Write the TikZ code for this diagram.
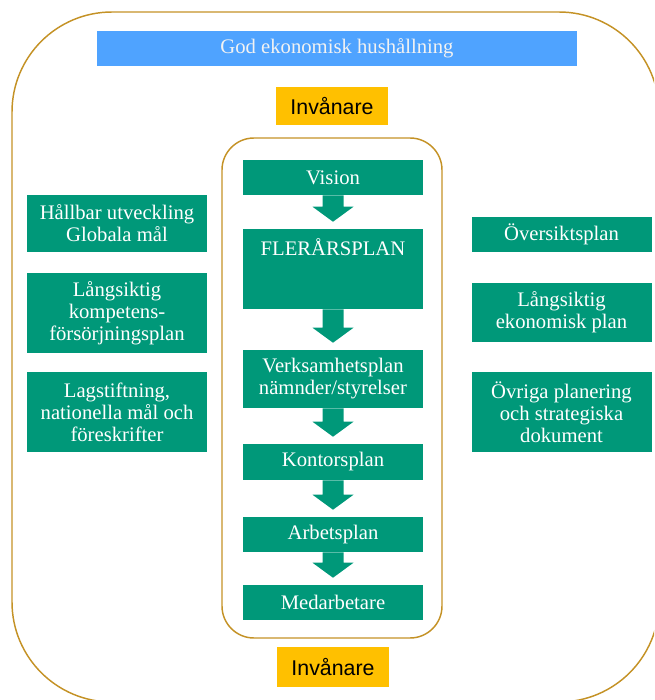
\documentclass[tikz,border=0pt]{standalone}
\usepackage{fontspec}
\setmainfont{Liberation Serif}
\setsansfont{Liberation Sans}
\usetikzlibrary{calc}

\definecolor{frame}{RGB}{196,146,38}
\definecolor{planblue}{RGB}{79,163,255}
\definecolor{folkgold}{RGB}{255,192,0}
\definecolor{plangreen}{RGB}{0,152,121}

\begin{document}
\begin{tikzpicture}[x=0.75pt,y=-0.75pt,
  frameline/.style={draw=frame,line width=1.1pt},
  planbox/.style={fill=plangreen,text=white,inner sep=0pt,align=center,
    font=\fontsize{15.5}{16.5}\selectfont,minimum width=135pt},
  folkbox/.style={fill=folkgold,inner sep=0pt,font=\sffamily\fontsize{16}{18}\selectfont,
    minimum width=84pt},
  arrowfill/.style={fill=plangreen}]
\useasboundingbox (0,0) rectangle (654,700); % adjust bounding box
\clip (0,0) rectangle (654,700);
\draw[frameline,rounded corners=75pt] (12,12) rectangle (659,702);
\draw[frameline,rounded corners=24pt] (222,138) rectangle (442,638);

\node[fill=planblue,text=white!95!black,minimum width=360pt,minimum height=26.25pt,inner sep=0pt,
  font=\fontsize{15.5}{17}\selectfont] (budget) at (337,48.5) {God ekonomisk hushållning};
\node[folkbox,minimum height=28.5pt] (folktop) at (332,106) {Invånare};
\node[folkbox,minimum height=30pt] (folkbot) at (333,667) {Invånare};

\node[planbox,minimum height=26.25pt] (vision) at (333,177.5) {Vision};
\node[planbox,minimum height=60pt,
  label={[planbox,minimum width=0pt,fill=none,anchor=north,yshift=-7pt]north:FLERÅRSPLAN}]
  (flerar) at (333,269) {};
\node[planbox,minimum height=43.5pt] (verks) at (333,379) {Verksamhetsplan\\nämnder/styrelser};
\node[planbox,minimum height=27pt] (kontor) at (333,462) {Kontorsplan};
\node[planbox,minimum height=26.25pt] (arbets) at (333,534.5) {Arbetsplan};
\node[planbox,minimum height=26.25pt] (medarb) at (333,602.5) {Medarbetare};

\node[planbox,minimum height=42.75pt] (hallbar) at (117,223.5) {Hållbar utveckling\\Globala mål};
\node[planbox,minimum height=60pt] (kompet) at (117,313) {Långsiktig\\kompetens-\\försörjningsplan};
\node[planbox,minimum height=60pt] (lagar) at (117,412) {Lagstiftning,\\nationella mål och\\föreskrifter};

\node[planbox,minimum height=26.25pt] (oversikt) at (561.5,234.5) {Översiktsplan};
\node[planbox,minimum height=44.25pt] (ekonomi) at (561.5,312.5) {Långsiktig\\ekonomisk plan};
\node[planbox,minimum height=60pt] (ovriga) at (561.5,412) {Övriga planering\\och strategiska\\dokument};

\foreach \a/\b in {vision/flerar,flerar/verks,verks/kontor,kontor/arbets,arbets/medarb}{
  \coordinate (tip) at ($(\b.north)+(0,-7)$);
  \fill[arrowfill]
       ($(\a.south)+(-10.5,0)$)
    -- ($(tip)+(-10.5,-15)$)
    -- ($(tip)+(-20.5,-15)$)
    -- (tip)
    -- ($(tip)+(20.5,-15)$)
    -- ($(tip)+(10.5,-15)$)
    -- ($(\a.south)+(10.5,0)$)
    -- cycle;
}
\end{tikzpicture}
\end{document}
